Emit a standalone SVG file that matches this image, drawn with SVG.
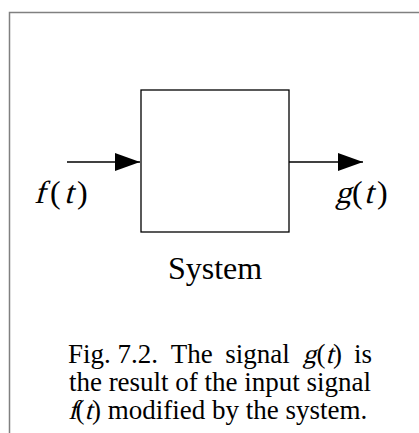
<svg xmlns="http://www.w3.org/2000/svg" width="419" height="433" viewBox="0 0 419 433">
<style>
.frame{fill:none;stroke:#808080;stroke-width:1.5}
.box{fill:#fff;stroke:#000;stroke-width:1.3}
.conn{stroke:#000;stroke-width:1.3;fill:none}
.t{font-family:"Liberation Serif","Times New Roman",serif;fill:#000}
.lbl{font-size:32px}
.cap{font-size:27px}
</style>
<defs>
<marker id="ah" viewBox="0 0 25 18" refX="25" refY="9" markerWidth="25" markerHeight="18" markerUnits="userSpaceOnUse" orient="auto">
<path d="M0,0 L25,9 L0,18 Z" fill="#000"/>
</marker>
</defs>
<path class="frame" d="M9.5,433 V12.5 H419"/>
<g id="system">
<rect class="box" x="141" y="90" width="148" height="142"/>
<text class="t lbl" x="215" y="279" text-anchor="middle">System</text>
</g>
<g id="input">
<text class="t lbl" transform="translate(34,203) skewX(-15)">f</text>
<text class="t lbl" x="50" y="203">(</text>
<text class="t lbl" transform="translate(64,203) skewX(-15)">t</text>
<text class="t lbl" x="77" y="203">)</text>
</g>
<g id="output">
<text class="t lbl" transform="translate(335,203) skewX(-15)">g</text>
<text class="t lbl" x="352" y="203">(</text>
<text class="t lbl" transform="translate(364,203) skewX(-15)">t</text>
<text class="t lbl" x="377" y="203">)</text>
</g>
<g id="connectors">
<line class="conn" x1="67" y1="162" x2="140" y2="162" marker-end="url(#ah)"/>
<line class="conn" x1="289" y1="162" x2="363" y2="162" marker-end="url(#ah)"/>
</g>
<g id="caption">
<text class="t cap" x="68" y="363">Fig. 7.2.</text>
<text class="t cap" x="170.7" y="363">The</text>
<text class="t cap" x="225.3" y="363">signal</text>
<text class="t cap" transform="translate(302.4,363) skewX(-15)">g</text>
<text class="t cap" x="316.5" y="363">(</text>
<text class="t cap" transform="translate(325.5,363) skewX(-15)">t</text>
<text class="t cap" x="333" y="363">)</text>
<text class="t cap" x="372" y="363" text-anchor="end">is</text>
<text class="t cap" x="220" y="391" text-anchor="middle">the result of the input signal</text>
<text class="t cap" transform="translate(68,419) skewX(-15)">f</text>
<text class="t cap" x="75.5" y="419">(</text>
<text class="t cap" transform="translate(84.5,419) skewX(-15)">t</text>
<text class="t cap" x="92" y="419">) modified by the system.</text>
</g>
</svg>
